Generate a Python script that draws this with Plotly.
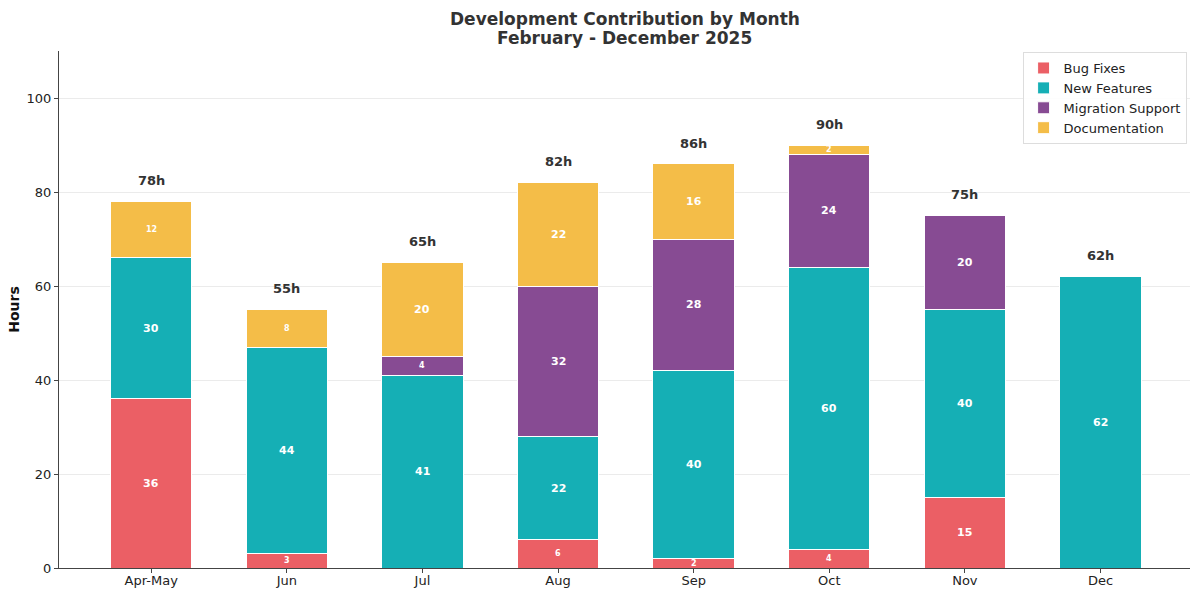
import plotly.graph_objects as go

months = ["Apr-May", "Jun", "Jul", "Aug", "Sep", "Oct", "Nov", "Dec"]
bug_fixes = [36, 3, 0, 6, 2, 4, 15, 0]
new_features = [30, 44, 41, 22, 40, 60, 40, 62]
migration_support = [0, 0, 4, 32, 28, 24, 20, 0]
documentation = [12, 8, 20, 22, 16, 2, 0, 0]

series = [
    ("Bug Fixes", bug_fixes, "#EB5F65"),
    ("New Features", new_features, "#15AFB5"),
    ("Migration Support", migration_support, "#874B93"),
    ("Documentation", documentation, "#F4BD48"),
]

FONT = "DejaVu Sans"
fig = go.Figure()
for name, vals, color in series:
    fig.add_trace(go.Bar(
        x=list(range(len(months))), y=vals, name=name,
        marker=dict(color=color, line=dict(color="white", width=1)),
        width=0.6,
    ))

annotations = []
bases = [0] * len(months)
for name, vals, color in series:
    for i, v in enumerate(vals):
        if v > 0:
            annotations.append(dict(
                x=i, y=bases[i] + v / 2, xref="x", yref="y", text=f"<b>{v}</b>",
                showarrow=False, yanchor="middle",
                font=dict(family=FONT, size=11 if v >= 14 else 8, color="white"),
            ))
        bases[i] += v

for i, t in enumerate(bases):
    annotations.append(dict(
        x=i, y=t + 4.4, xref="x", yref="y", text=f"<b>{t}h</b>",
        showarrow=False, yanchor="middle",
        font=dict(family=FONT, size=13, color="#333333"),
    ))

for line, shift in (("Development Contribution by Month", 32), ("February - December 2025", 13)):
    annotations.append(dict(
        x=0.5, y=1.0, xref="paper", yref="paper", yshift=shift,
        text=f"<b>{line}</b>", showarrow=False, yanchor="middle",
        font=dict(family=FONT, size=17, color="#333333"),
    ))

fig.update_layout(
    barmode="stack",
    width=1191, height=589,
    margin=dict(l=59, r=1, t=51, b=21),
    plot_bgcolor="white", paper_bgcolor="white",
    font=dict(family=FONT, size=13, color="#222222"),
    annotations=annotations,
    showlegend=True,
    legend=dict(
        x=0.997, y=0.998, xanchor="right", yanchor="top",
        traceorder="normal",
        bgcolor="rgba(255,255,255,0.9)", bordercolor="#DDDDDD", borderwidth=1,
        font=dict(family=FONT, size=13, color="#222222"),
        tracegroupgap=0, itemwidth=30,
    ),
    xaxis=dict(
        tickmode="array", tickvals=list(range(len(months))), ticktext=months,
        range=[-0.68, 7.66], showline=True, linecolor="#444444", linewidth=1,
        ticks="outside", ticklen=4, tickcolor="#444444", showgrid=False,
        zeroline=False, automargin=False, ticklabelstandoff=-4,
    ),
    yaxis=dict(
        range=[0, 110], tickvals=[0, 20, 40, 60, 80, 100],
        showline=True, linecolor="#444444", linewidth=1,
        ticks="outside", ticklen=4, tickcolor="#444444",
        showgrid=True, gridcolor="#EBEBEB", gridwidth=1, zeroline=False,
        automargin=False,
        title=dict(text="<b>Hours</b>", font=dict(family=FONT, size=14, color="#111111"), standoff=3),
    ),
)

fig.write_html(
    "out.html",
    config={"displayModeBar": False},
    post_script="document.body.style.margin='0px';document.body.style.overflow='hidden';",
)
